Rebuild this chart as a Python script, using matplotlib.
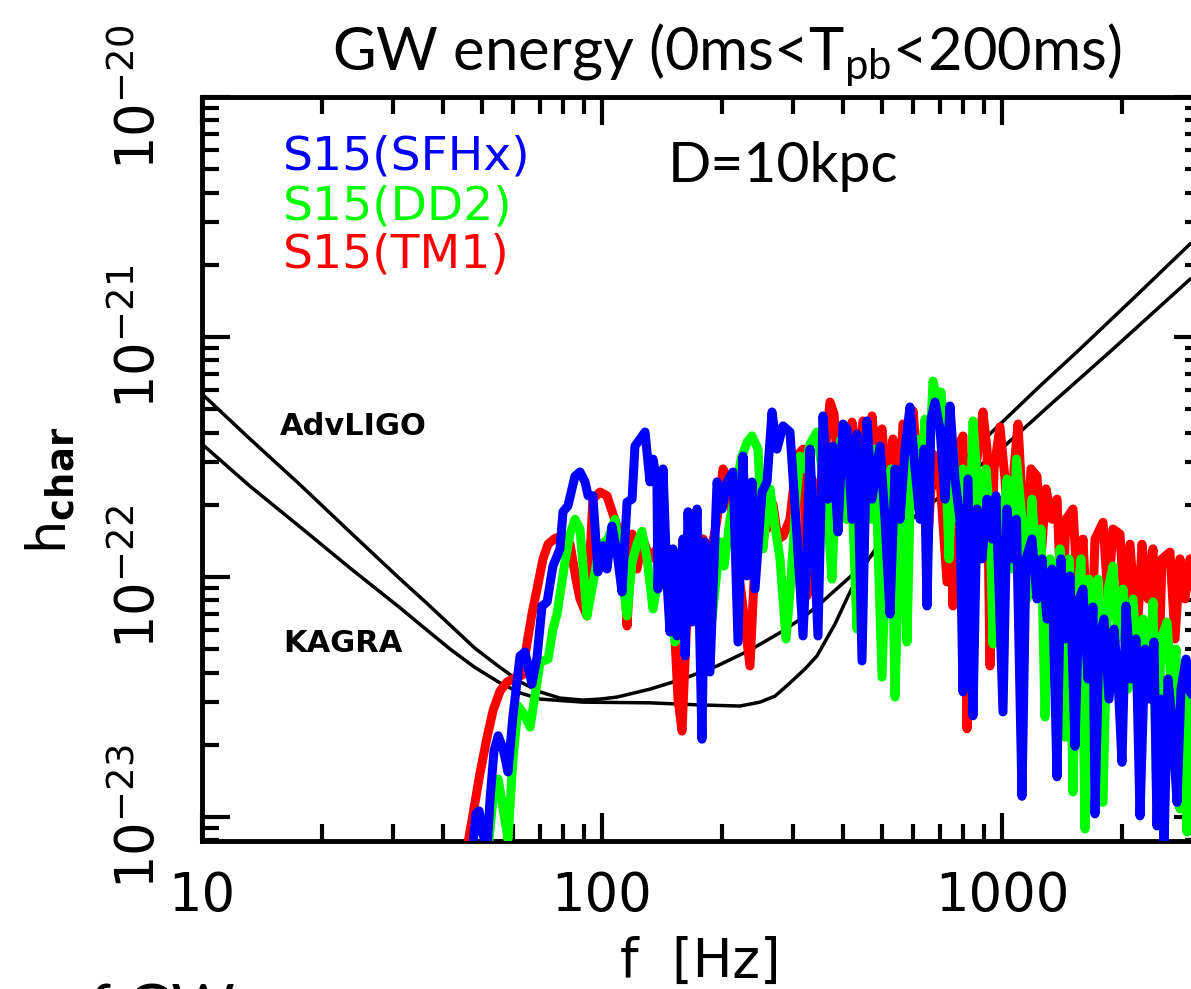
import matplotlib
matplotlib.use("Agg")
import matplotlib.pyplot as plt
from matplotlib.ticker import NullFormatter, LogLocator

plt.rcParams['font.family'] = ['DejaVu Sans']
plt.rcParams['mathtext.fontset'] = 'dejavusans'

# ---------------- data ----------------
# detector noise curves (h_char in units of 1e-22)
f_advligo = [10, 13.18, 17.6, 23.44, 31.3, 36.1, 41.7, 48.1, 55.6, 62.4, 70.0, 78.5, 89.7,
             98.9, 109, 131.8, 159.4, 193.9, 234.4, 283.5, 321.7, 356.9, 416.9, 481.4, 555.9,
             741.3, 988.6, 1318.3, 1894.6, 2951]
h_advligo = [5.79, 3.76, 2.42, 1.54, 0.98, 0.79, 0.631, 0.505, 0.420, 0.366, 0.332, 0.313,
             0.307, 0.31, 0.316, 0.341, 0.376, 0.426, 0.496, 0.596, 0.688, 0.794, 1.0, 1.27,
             1.6, 2.33, 3.38, 5.21, 8.91, 17.4]
f_kagra = [10, 13.18, 17.6, 23.44, 31.3, 36.1, 41.7, 48.1, 55.6, 62.4, 70.0, 89.7, 131.8,
           175.8, 221.3, 248.3, 270.7, 295.1, 321.7, 344.7, 382.4, 416.9, 446.7, 481.4, 555.9,
           741.3, 949.6, 1244.5, 1566.8, 2150.4, 2951]
h_kagra = [3.58, 2.39, 1.615, 1.09, 0.743, 0.61, 0.501, 0.420, 0.362, 0.329, 0.31, 0.301,
           0.299, 0.293, 0.29, 0.301, 0.319, 0.362, 0.414, 0.469, 0.637, 0.866, 1.08, 1.30,
           1.71, 2.71, 4.06, 6.25, 8.91, 14.7, 24.4]

# S15 (TM1) - red
f_tm1 = [45.96, 47.6, 49.5, 51.6, 53.4, 55.6, 57.9, 60.6, 63.1, 64.9, 66.8, 68.8, 71.2, 73.3,
         76.3, 79.9, 83.2, 86.1, 88.1, 91.7, 94.9, 98.9, 102.9, 106.5, 110.9, 113.5, 115.5,
         118.9, 122.3, 126.6, 131.8, 139.6, 145.4, 150.5, 154.9, 158.5, 162.2, 166.0, 172.8,
         178.9, 186.2, 193.9, 200.7, 206.5, 215.0, 223.9, 234.4, 241.3, 251.2, 258.5, 267.6,
         275.4, 283.5, 295.1, 307.2, 318.1, 325.5, 335.0, 346.7, 371.5, 380.2, 389.0, 400.4,
         409.8, 421.7, 431.5, 449.3, 462.4, 473.2, 484.2, 501.2, 515.9, 534.0, 549.5, 565.6,
         582.1, 599.2, 616.6, 634.6, 653.1, 672.2, 699.8, 728.6, 741.3, 754.2, 771.8, 798.9,
         817.6, 836.6, 866.1, 896.4, 917.3, 933.3, 955.0, 988.6, 1017.4, 1047.1, 1071.5,
         1096.5, 1122.0, 1154.8, 1181.6, 1223.3, 1251.6, 1288.2, 1333.5, 1372.6, 1412.5,
         1445.4, 1504.9, 1548.8, 1594.1, 1659.6, 1708.1, 1788.6, 1840.8, 1894.6, 1972.4,
         2030.1, 2089.3, 2175.0, 2238.7, 2317.4, 2385.1, 2454.7, 2511.9, 2630.3, 2707.1,
         2786.1, 2867.5, 2951.0, 3038.0]
h_tm1 = [0.0736, 0.103, 0.151, 0.215, 0.277, 0.335, 0.365, 0.38, 0.39, 0.526, 0.701, 0.891,
         1.19, 1.37, 1.45, 1.48, 1.37, 0.98, 0.81, 0.688, 2.11, 2.26, 2.18, 1.83, 1.51, 1.19,
         0.625, 1.51, 1.08, 1.44, 1.19, 1.37, 1.19, 0.81, 0.31, 0.228, 0.552, 1.37, 1.13,
         1.44, 1.19, 1.74, 2.82, 2.56, 1.37, 0.81, 0.426, 1.19, 1.74, 1.585, 2.01,
         1.44, 1.48, 1.74, 3.19, 3.41, 0.834, 2.56, 1.585, 5.36, 4.78, 2.82, 4.14,
         1.74, 4.42, 2.82, 4.47, 2.56, 4.69, 3.10, 4.14, 2.33, 3.76, 1.585, 4.34,
         1.74, 4.92, 2.82, 3.58, 1.44, 3.25, 2.56, 0.953, 3.10, 0.757, 3.41, 3.87,
         0.233, 2.56, 3.10, 4.87, 3.41, 0.426, 2.82, 4.22, 2.56, 1.19, 2.82,
         4.34, 2.11, 1.37, 2.82, 2.63, 1.19, 2.33, 1.74, 2.11, 0.668,
         1.74, 1.92, 0.81, 1.44, 0.341, 1.44, 1.69, 0.81, 1.585, 1.51,
         0.668, 1.37, 0.552, 1.37, 0.81, 1.31, 0.31, 1.19, 1.27, 0.552,
         1.19, 0.81, 1.19, 1.08]

# S15 (DD2) - green
f_dd2 = [51.9, 53.4, 55.0, 56.6, 58.2, 59.9, 61.7, 63.8, 66.1, 68.4, 70.0, 73.3, 75.4, 77.2,
         80.8, 83.2, 85.6, 88.1, 90.2, 91.7, 94.4, 97.3, 100.0, 103.5, 107.8, 110.9, 115.5,
         118.9, 122.3, 125.9, 129.6, 134.1, 138.0, 143.7, 147.9, 152.2, 162.2, 167.9, 173.8,
         181.0, 188.4, 197.2, 201.8, 208.9, 215.0, 222.6, 230.5, 237.1, 245.5, 252.6, 258.5,
         263.0, 270.7, 278.6, 288.4, 296.8, 305.5, 312.6, 321.7, 331.1, 344.7, 354.8, 365.3,
         375.8, 384.6, 395.9, 407.4, 419.3, 434.0, 444.1, 457.1, 470.5, 481.4, 501.2, 515.9,
         527.8, 540.2, 555.9, 565.6, 578.8, 592.3, 609.5, 623.7, 642.0, 656.9, 672.2, 687.9,
         703.9, 720.3, 737.1, 754.2, 776.2, 798.9, 822.2, 846.3, 866.1, 886.1, 912.0, 933.3,
         949.6, 971.7, 1000.0, 1029.2, 1059.3, 1086.9, 1122.0, 1154.8, 1188.5, 1223.3,
         1251.6, 1280.9, 1318.3, 1356.9, 1396.4, 1437.3, 1470.6, 1504.9, 1540.0, 1576.0,
         1612.6, 1650.0, 1698.0, 1737.8, 1788.6, 1840.8, 1894.6, 1949.8, 2006.8, 2065.4,
         2125.7, 2187.8, 2251.7, 2317.4, 2385.1, 2440.6, 2497.5, 2585.2, 2660.7, 2722.7,
         2786.1, 2851.0, 2900.7, 2951.0, 3038.0]
h_dd2 = [0.0736, 0.119, 0.144, 0.108, 0.081, 0.174, 0.29, 0.269, 0.237, 0.341, 0.442, 0.455,
         0.607, 0.701, 1.155, 1.51, 1.74, 1.585, 0.98, 0.688, 0.891, 1.19, 1.37, 1.44, 1.74,
         1.19, 0.688, 1.155, 1.37, 1.55, 1.19, 0.736, 0.98, 1.19, 0.81, 0.536, 0.668, 1.08,
         0.81, 0.98, 0.668, 1.40, 1.11, 1.74, 2.18, 3.10, 3.65, 3.87, 3.41, 1.31, 1.92,
         2.33, 1.63, 1.19, 0.552, 0.98, 2.11, 3.19, 2.82, 3.58, 4.02, 2.82, 1.92,
         0.98, 2.56, 3.76, 1.74, 2.82, 0.607, 1.74, 2.56, 1.74, 3.41, 0.383, 1.74,
         2.82, 0.316, 1.74, 2.82, 0.536, 3.10, 3.76, 2.11, 4.55, 2.82, 6.55, 5.52,
         5.90, 3.76, 1.19, 3.41, 1.74, 2.82, 0.81, 4.47, 2.56, 1.19, 2.82, 1.74,
         0.526, 2.11, 1.44, 2.56, 1.08, 3.10, 1.74, 0.81, 2.11, 0.98,
         1.585, 0.261, 1.19, 0.668, 1.31, 0.215, 1.19, 0.127, 0.81, 1.19,
         0.0891, 0.98, 0.552, 0.98, 0.115, 0.891, 1.11, 0.552, 0.891, 0.341,
         0.81, 0.376, 0.668, 0.31, 0.787, 0.098, 0.552, 0.649, 0.31, 0.501,
         0.108, 0.376, 0.0866, 0.32, 0.31]

# S15 (SFHx) - blue
f_sfhx = [47.6, 48.4, 49.3, 50.4, 51.6, 52.5, 53.7, 55.0, 56.6, 58.2, 59.9, 62.4, 64.2, 65.3,
          66.8, 68.8, 70.8, 72.9, 75.4, 78.5, 79.9, 82.2, 85.6, 88.1, 90.7, 92.3, 94.9, 97.7,
          100.6, 102.9, 105.9, 109.0, 112.2, 115.5, 118.9, 120.9, 124.5, 128.1, 131.8, 134.1,
          137.2, 138.0, 142.1, 145.4, 147.9, 150.5, 154.0, 159.4, 161.3, 164.1, 167.9, 172.8,
          177.8, 181.0, 186.2, 193.9, 199.5, 205.4, 212.6, 218.8, 225.2, 230.5, 237.1, 241.3,
          251.2, 258.5, 266.1, 273.8, 283.5, 295.1, 307.2, 318.1, 325.5, 331.1, 346.7, 356.9,
          367.3, 378.0, 389.0, 400.4, 409.8, 421.7, 434.0, 446.7, 459.8, 473.2, 495.5, 510.0,
          524.8, 540.2, 555.9, 572.2, 588.8, 606.1, 623.7, 638.3, 649.4, 664.5, 680.0, 699.8,
          720.3, 741.3, 763.0, 785.2, 798.9, 822.2, 846.3, 866.1, 891.3, 917.3, 944.1, 966.0,
          1005.8, 1029.2, 1059.3, 1086.9, 1122.0, 1148.0, 1188.5, 1223.3, 1258.9, 1295.6,
          1333.5, 1372.6, 1404.4, 1437.3, 1479.1, 1522.3, 1557.8, 1594.1, 1640.6, 1688.5,
          1708.1, 1747.9, 1798.9, 1851.5, 1905.5, 1949.8, 1995.0, 2041.7, 2101.4, 2162.7,
          2213.1, 2277.7, 2344.2, 2398.8, 2440.6, 2497.5, 2541.0, 2600.0, 2660.7, 2738.4,
          2802.0, 2884.0, 2951.0, 3038.0]
h_sfhx = [0.0772, 0.103, 0.106, 0.085, 0.0736, 0.119, 0.188, 0.218, 0.192, 0.154, 0.264,
          0.469, 0.487, 0.426, 0.358, 0.464, 0.757, 0.787, 1.11, 1.31, 1.87, 1.98, 2.63,
          2.74, 2.49, 2.18, 2.18, 1.05, 1.35, 1.08, 1.63, 1.27, 0.866, 2.05, 2.11, 3.51,
          3.76, 4.02, 2.49, 3.10, 2.49, 0.891, 2.82, 0.953, 0.59, 1.31, 0.568, 1.44, 0.469,
          1.87, 0.649, 1.92, 0.211, 1.40, 0.402, 2.49, 1.92, 2.49, 2.74, 0.536, 3.19, 1.01,
          2.49, 0.891, 2.26, 2.49, 4.87, 3.41, 4.26, 4.02, 1.48, 0.568, 1.31, 3.41, 0.568,
          4.69, 2.11, 3.51, 1.54, 4.34, 4.14, 1.74, 3.94, 0.447, 4.47, 2.11, 3.51, 1.74,
          0.701, 2.82, 1.74, 3.41, 5.11, 2.82, 1.74, 3.41, 0.757, 4.55, 5.36, 4.14,
          2.11, 5.16, 2.56, 1.74, 0.332, 2.56, 0.264, 1.92, 1.19, 2.11, 1.44, 2.18,
          0.274, 1.92, 1.19, 1.74, 0.122, 1.19, 1.44, 0.81, 1.19, 0.668,
          1.08, 0.147, 1.19, 0.552, 1.01, 0.197, 0.81, 0.891, 0.376, 0.75,
          0.103, 0.552, 0.668, 0.31, 0.607, 0.376, 0.169, 0.757, 0.376, 0.552,
          0.101, 0.501, 0.31, 0.536, 0.0917, 0.31, 0.0736, 0.376, 0.256, 0.115,
          0.341, 0.455, 0.332, 0.31]

xticks_major = [10, 100, 1000]
xtick_labels = ['10', '100', '1000']
yticks_major = [1e-23, 1e-22, 1e-21, 1e-20]
ytick_labels = [r'$10^{-23}$', r'$10^{-22}$', r'$10^{-21}$', r'$10^{-20}$']
series_names = ['S15(SFHx)', 'S15(DD2)', 'S15(TM1)']
series_colors = ['#0000ff', '#00ff00', '#ff0000']

UNIT = 1e-22

# ---------------- figure ----------------
W, H = 1191, 989
fig = plt.figure(figsize=(W / 100, H / 100), dpi=100)
L, R, T, B = 202, 1202, 97, 841
ax = fig.add_axes([L / W, 1 - B / H, (R - L) / W, (B - T) / H])
ax.set_xscale('log')
ax.set_yscale('log')
ax.set_xlim(10, 10 ** 3.5)
ax.set_ylim(10 ** -23.1, 1e-20)

ax.plot(f_advligo, [v * UNIT for v in h_advligo], color='black', lw=2.5, zorder=2,
        solid_joinstyle='round')
ax.plot(f_kagra, [v * UNIT for v in h_kagra], color='black', lw=2.5, zorder=2,
        solid_joinstyle='round')

kw = dict(lw=6.5, solid_joinstyle='round', solid_capstyle='round')
ax.plot(f_tm1, [v * UNIT for v in h_tm1], color=series_colors[2], zorder=3, **kw)
ax.plot(f_dd2, [v * UNIT for v in h_dd2], color=series_colors[1], zorder=4, **kw)
ax.plot(f_sfhx, [v * UNIT for v in h_sfhx], color=series_colors[0], zorder=5, **kw)

for sp in ax.spines.values():
    sp.set_linewidth(3.5)

ax.xaxis.set_minor_locator(LogLocator(base=10, subs=range(2, 10), numticks=20))
ax.yaxis.set_minor_locator(LogLocator(base=10, subs=range(2, 10), numticks=20))
ax.xaxis.set_minor_formatter(NullFormatter())
ax.yaxis.set_minor_formatter(NullFormatter())
ax.set_xticks(xticks_major)
ax.set_xticklabels(xtick_labels, fontsize=38)
ax.set_yticks(yticks_major)
ax.set_yticklabels(ytick_labels, fontsize=38, rotation=90, va='center')
ax.tick_params(which='both', direction='in', top=True, right=True, width=3, color='black')
ax.tick_params(which='major', length=20)
ax.tick_params(which='minor', length=12)
ax.tick_params(axis='x', which='major', pad=21)
ax.tick_params(axis='y', which='major', pad=26)

# axis labels
fig.text(700 / W, 1 - 977 / H, 'f  [Hz]', fontsize=38, ha='center', va='baseline')
fig.text(50 / W, 1 - 490 / H, r'h$_{\mathbf{char}}$', fontsize=38, rotation=90,
         ha='center', va='center')

# title and annotations
fig.text(727 / W, 1 - 70 / H, r'GW energy (0ms<T$_{\mathdefault{pb}}$<200ms)',
         fontsize=43, family='Lato', ha='center', va='baseline')
fig.text(668 / W, 1 - 182 / H, 'D=10kpc', fontsize=41, family='Lato',
         ha='left', va='baseline')

for name, col, yb in zip(series_names, series_colors, [170, 220, 268]):
    fig.text(283 / W, 1 - yb / H, name, fontsize=34, color=col, ha='left', va='baseline')

fig.text(280 / W, 1 - 435 / H, 'AdvLIGO', fontsize=22, fontweight='bold',
         ha='left', va='baseline')
fig.text(283 / W, 1 - 652 / H, 'KAGRA', fontsize=22, fontweight='bold',
         ha='left', va='baseline')

# partially visible slide text at the bottom edge
fig.text(55 / W, 1 - 983 / H, 'of GW', fontsize=44, family='Lato', ha='left', va='top')

fig.savefig('out.png', dpi=100)
